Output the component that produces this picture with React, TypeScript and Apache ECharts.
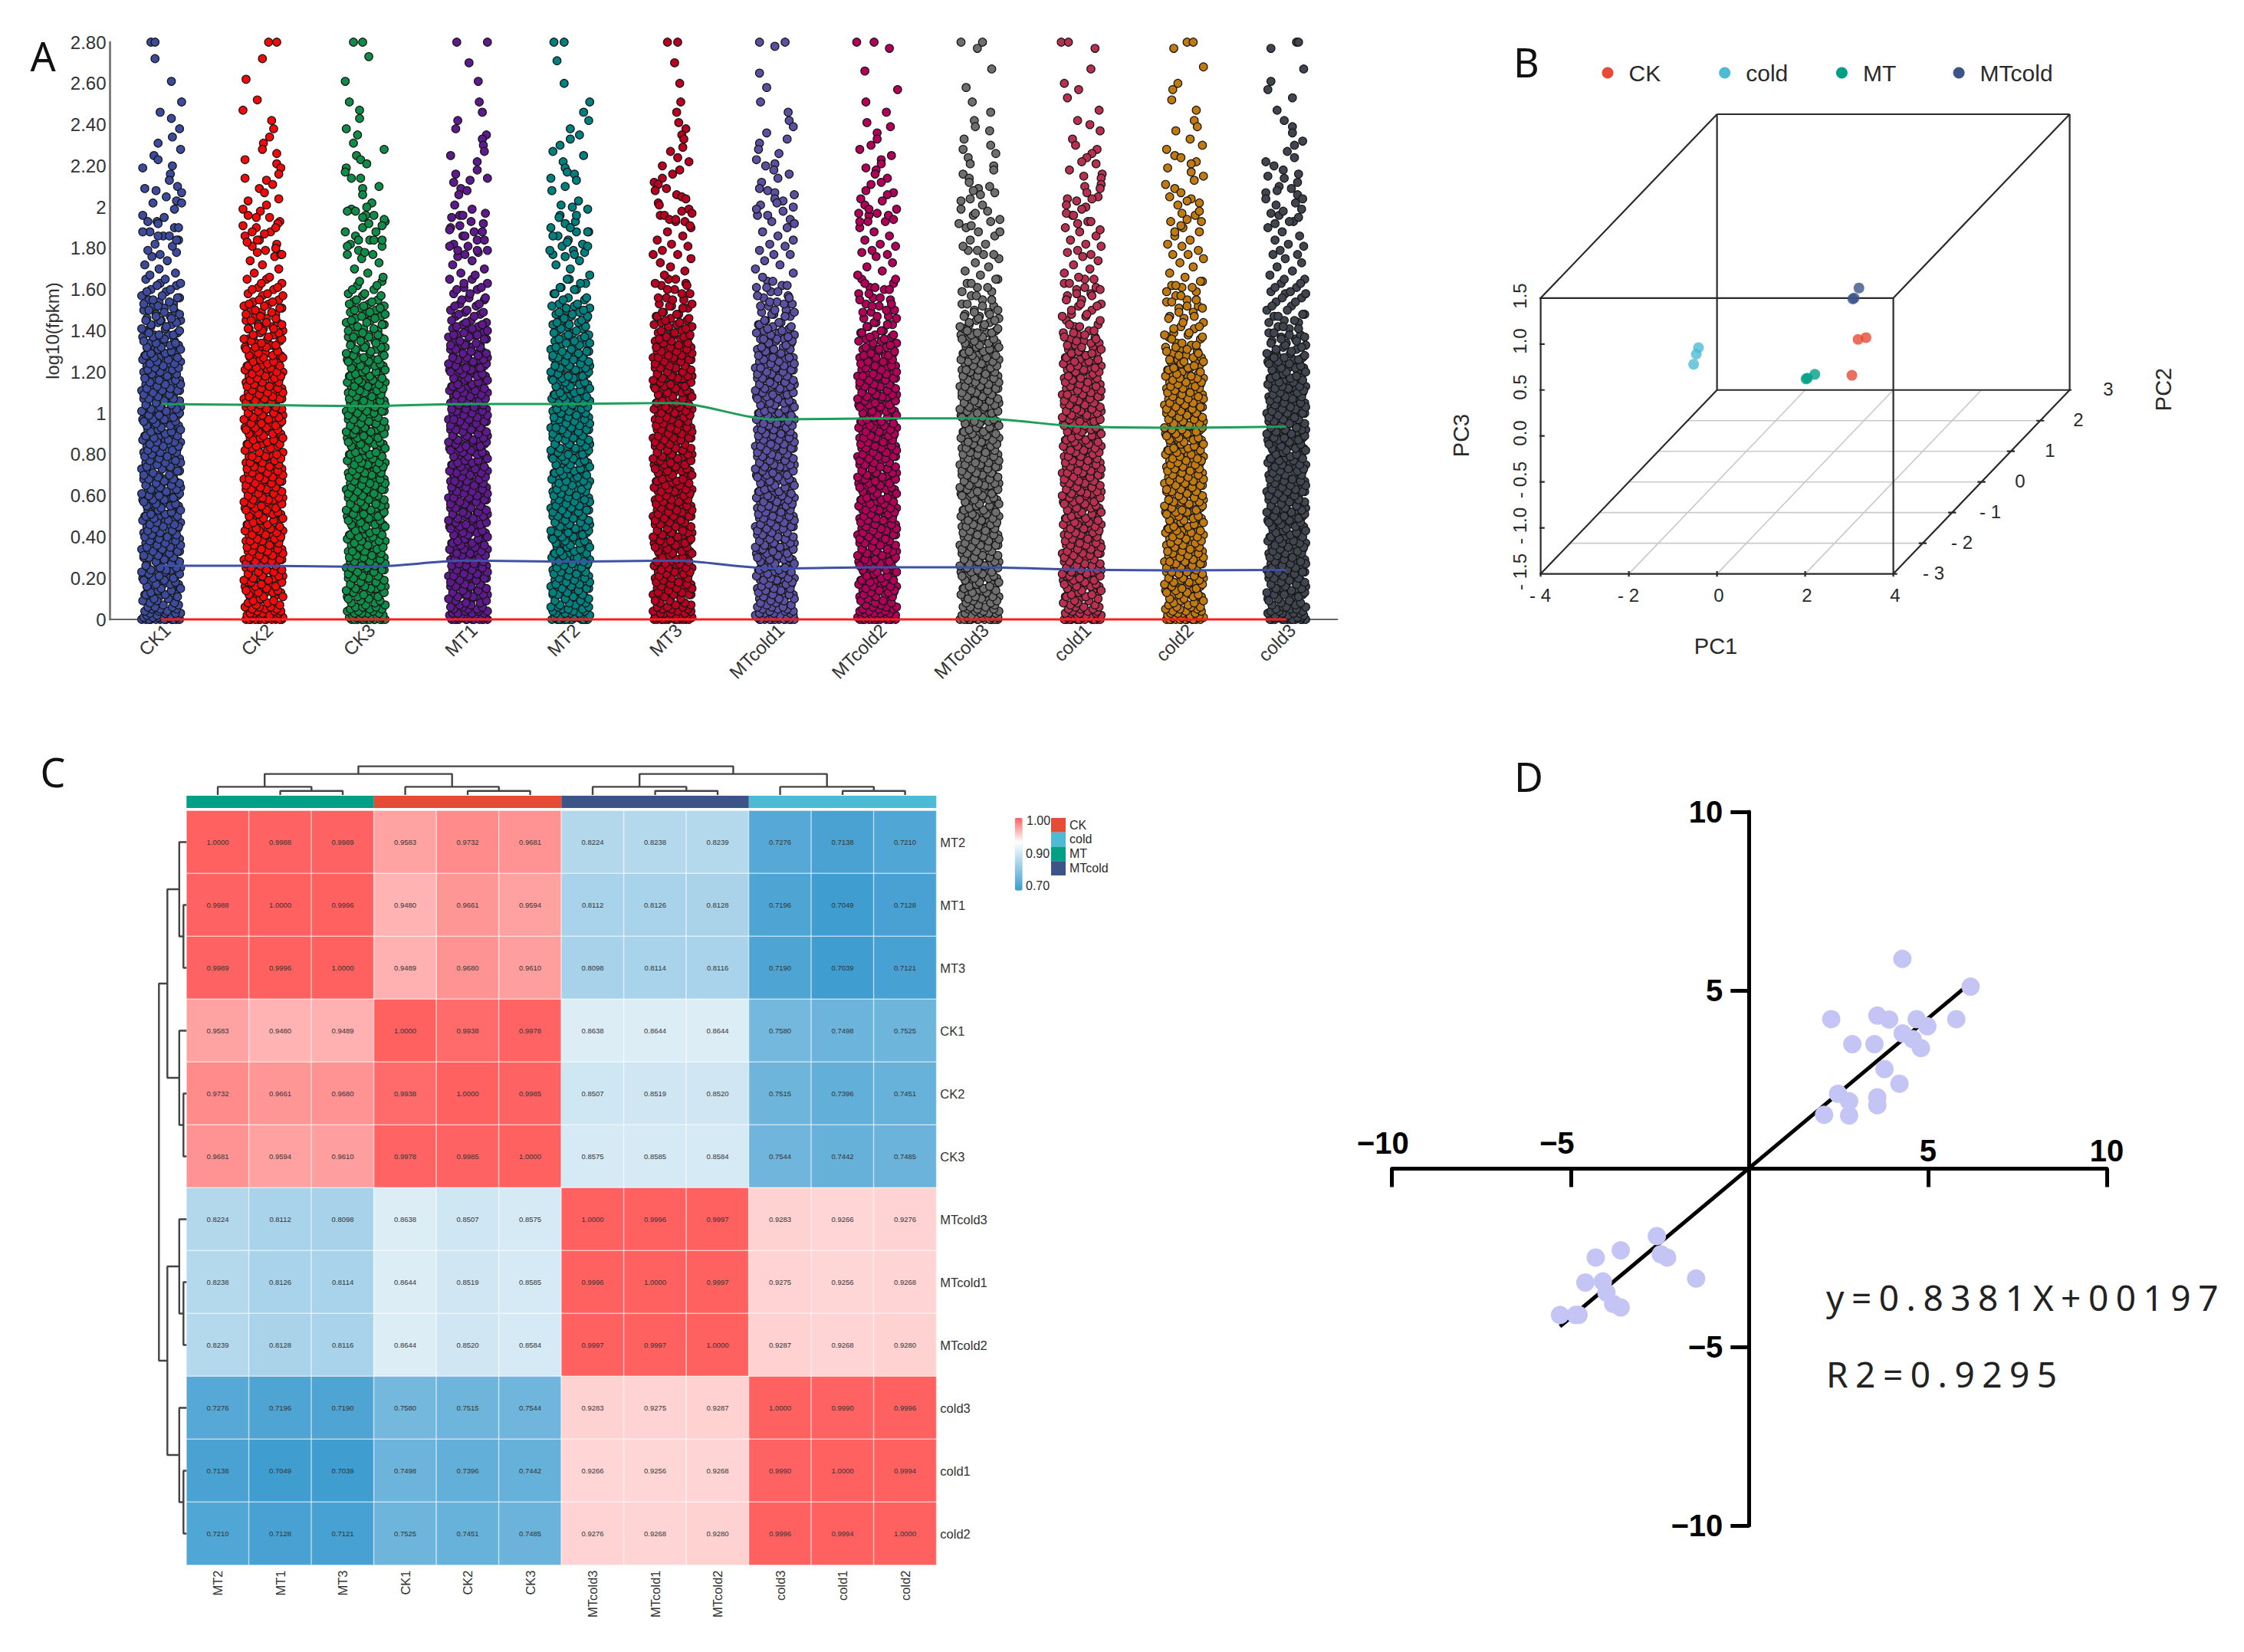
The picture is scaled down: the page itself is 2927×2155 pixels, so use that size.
import React, { useEffect, useRef } from "react";
import * as echarts from "echarts";

const SANS = '"Liberation Sans"';

// ---------- Panel A ----------
const sampleNames = ["CK1","CK2","CK3","MT1","MT2","MT3","MTcold1","MTcold2","MTcold3","cold1","cold2","cold3"];
const sampleColors = ["#3D4B9C","#F00A0A","#0E8C48","#5E1A8C","#007F7F","#B80020","#5A4FA0","#B0005A","#6E6E6E","#B83050","#C07A10","#40454F"];
const greenLine = [1.045,1.04,1.035,1.045,1.045,1.05,0.97,0.975,0.975,0.935,0.93,0.935];
const blueLine = [0.26,0.26,0.255,0.285,0.28,0.285,0.247,0.253,0.253,0.241,0.238,0.24];
const redLine = [0,0,0,0,0,0,0,0,0,0,0,0];
const yTicksA = ["0","0.20","0.40","0.60","0.80","1","1.20","1.40","1.60","1.80","2","2.20","2.40","2.60","2.80"];

// sideways scatter, in hundredths of a category band
const jitter = [-19,5,-10,15,-1,-15,10,-5,18,3,-12,12,-3,-17,8,-8,16,1,-14,9,-4,19,4,-11,14,-2,-16,6,-9,15,-1,-13,11,-6,17,2,-11,13,-4,-18,7,-7,16,-15,4,-10,10,-3,19,0,-14,9,-5,14,-17,3,-8,12,-2,-12,18];
// crowded floor of each strip (log10 fpkm x100)
const floorValues = [0,0,0,0,0,0,0,0,0,0,0,0,1,1,1,1,1,2,2,2,2,3,3,3,3,4,4,4,5,5,5,6,6,6,7,7,8,8,9,9];
// thinning shoulder between the body and the sparse tail
const shoulderValues = [177,179,181,182,184,186,188,190,193,196];

// dense bodies (x100), estimated from the visible density
const bodyCK1 = [10,10,11,12,12,13,14,14,15,15,16,17,17,18,19,19,20,20,21,22,22,23,24,24,25,25,26,27,28,28,29,30,30,31,31,32,33,33,34,35,35,36,36,37,38,38,39,40,40,41,41,42,43,43,44,45,45,46,46,47,48,48,49,50,50,51,51,52,53,53,54,55,55,56,56,57,58,58,59,60,60,61,61,62,63,63,64,65,65,66,66,67,68,68,69,70,70,71,72,73,74,74,75,76,76,77,77,78,79,79,80,81,81,82,82,83,84,84,85,86,86,87,87,88,89,89,90,91,91,92,92,93,94,94,95,96,96,97,97,98,99,99,100,101,101,102,102,103,104,104,105,106,106,107,107,108,109,109,110,111,111,112,112,113,114,114,115,116,116,117,118,119,119,120,121,121,122,122,123,124,124,125,126,126,127,127,128,129,129,130,131,131,132,132,133,134,134,135,136,137,138,138,139,140,141,142,143,144,145,145,146,147,148,149,150,151,152,153,154,155,156,157,159,160,162,163,165,167,168,170,172,174,176,178];
const bodyCK2 = [10,11,11,12,13,13,14,14,15,16,16,17,18,18,19,19,20,21,21,22,23,23,24,24,25,26,26,27,28,28,29,29,30,31,31,32,33,33,34,34,35,36,36,37,38,38,39,39,40,41,41,42,43,43,44,44,45,46,46,47,48,48,49,49,50,51,51,52,53,53,54,54,55,56,56,57,58,58,59,59,60,61,61,62,63,63,64,64,65,66,66,67,68,68,69,69,70,71,71,72,73,73,74,74,75,76,76,77,78,78,79,79,80,81,82,83,84,85,85,86,87,87,88,88,89,90,90,91,92,92,93,93,94,95,95,96,97,97,98,98,99,100,100,101,102,102,103,103,104,105,105,106,107,107,108,108,109,110,110,111,112,112,113,113,114,115,115,116,117,117,118,118,119,120,120,121,122,122,123,123,124,125,125,126,127,127,128,128,129,130,131,132,132,133,134,135,136,136,137,138,139,140,141,141,142,143,144,145,146,147,148,149,150,151,152,153,154,155,157,158,160,161,163,165,166,168,170,172,174,176,178];
const bodyCK3 = [10,10,11,11,12,13,13,14,15,15,16,16,17,18,18,19,20,20,21,21,22,23,23,24,25,25,26,26,27,28,28,29,30,30,31,31,32,33,33,34,35,35,36,37,38,38,39,40,40,41,41,42,43,43,44,45,45,46,46,47,48,48,49,50,50,51,51,52,53,53,54,55,55,56,56,57,58,58,59,60,60,61,61,62,63,63,64,65,65,66,66,67,68,68,69,70,70,71,71,72,73,73,74,75,75,76,76,77,78,78,79,80,80,81,81,82,83,83,84,85,85,86,86,87,88,88,89,90,90,91,91,92,93,93,94,95,95,96,96,97,98,98,99,100,100,101,101,102,103,103,104,105,105,106,106,107,108,108,109,110,110,111,111,112,113,113,114,115,115,116,116,117,118,118,119,120,120,121,121,122,123,123,124,125,125,126,126,127,128,128,129,130,131,132,132,133,134,135,136,137,137,138,139,140,141,142,143,144,145,146,147,148,149,150,151,152,153,154,155,157,158,160,162,164,166,168,170,173,175,177];
const bodyMT1 = [10,11,11,12,12,13,14,14,15,16,16,17,17,18,19,19,20,21,21,22,22,23,24,24,25,26,26,27,27,28,29,29,30,31,31,32,32,33,34,34,35,36,36,37,37,38,39,39,40,41,41,42,42,43,44,44,45,46,46,47,47,48,49,49,50,51,51,52,52,53,54,54,55,56,56,57,57,58,59,59,60,61,61,62,62,63,64,64,65,66,66,67,67,68,69,69,70,71,71,72,72,73,74,74,75,76,76,77,77,78,79,79,80,81,81,82,82,83,84,84,85,86,86,87,87,88,89,89,90,91,91,92,92,93,94,94,95,96,96,97,97,98,99,99,100,101,101,102,102,103,104,104,105,106,106,107,107,108,109,109,110,111,111,112,112,113,114,114,115,116,116,117,117,118,119,119,120,121,121,122,122,123,124,124,125,126,126,127,127,128,129,129,130,131,132,133,133,134,135,136,137,138,138,139,140,141,142,143,144,145,147,148,149,150,152,153,155,156,158,160,161,163,165,167,168,170,172,174,176,178];
const bodyMT2 = [10,10,11,12,12,13,13,14,15,15,16,17,17,18,18,19,20,20,21,22,22,23,23,24,25,25,26,27,27,28,28,29,30,30,31,32,32,33,33,34,35,35,36,37,37,38,38,39,40,40,41,42,42,43,43,44,45,45,46,47,47,48,48,49,50,50,51,52,52,53,53,54,55,55,56,57,57,58,58,59,60,60,61,62,62,63,63,64,65,65,66,67,67,68,69,70,70,71,72,72,73,73,74,75,75,76,77,77,78,78,79,80,80,81,82,82,83,83,84,85,85,86,87,87,88,88,89,90,90,91,92,92,93,93,94,95,95,96,97,97,98,98,99,100,100,101,102,102,103,103,104,105,105,106,107,107,108,108,109,110,110,111,112,112,113,113,114,115,115,116,117,117,118,118,119,120,120,121,122,122,123,123,124,125,125,126,127,127,128,128,129,130,130,131,132,133,134,134,135,136,137,138,139,140,141,142,143,144,145,146,147,148,149,150,151,152,153,155,156,158,160,161,163,165,167,170,172,174,176,178];
const bodyMT3 = [10,11,12,12,13,13,14,15,15,16,17,17,18,18,19,20,20,21,22,22,23,23,24,25,25,26,27,27,28,28,29,30,30,31,32,32,33,33,34,35,35,36,37,37,38,38,39,40,40,41,42,42,43,43,44,45,45,46,47,47,48,48,49,50,50,51,52,52,53,53,54,55,55,56,57,57,58,58,59,60,60,61,62,62,63,63,64,65,65,66,67,67,68,68,69,70,70,71,72,72,73,73,74,75,75,76,77,77,78,78,79,80,80,81,82,82,83,83,84,85,85,86,87,87,88,88,89,90,90,91,92,92,93,93,94,95,95,96,97,97,98,98,99,100,100,101,102,102,103,103,104,105,105,106,107,107,108,108,109,110,110,111,112,112,113,113,114,115,115,116,117,117,118,118,119,120,120,121,122,122,123,123,124,125,125,126,127,127,128,128,129,130,130,131,132,132,133,134,134,135,136,137,137,138,139,140,141,142,143,144,145,146,147,148,149,151,152,153,155,156,158,160,162,163,165,167,169,171,173,175,177];
const bodyMTcold1 = [10,10,11,12,12,13,14,14,15,15,16,17,17,18,19,19,20,20,21,22,22,23,24,24,25,25,26,27,27,28,29,29,30,30,31,32,32,33,34,34,35,35,36,37,37,38,39,39,40,40,41,42,42,43,44,44,45,45,46,47,47,48,49,49,50,50,51,52,52,53,54,54,55,55,56,57,57,58,59,59,60,60,61,62,62,63,64,64,65,65,66,67,67,68,69,69,70,70,71,72,72,73,74,74,75,75,76,77,77,78,79,79,80,80,81,82,82,83,84,84,85,85,86,87,87,88,89,89,90,90,91,92,92,93,94,94,95,95,96,97,97,98,99,99,100,100,101,102,102,103,104,104,105,105,106,107,107,108,109,109,110,110,111,112,112,113,114,114,115,115,116,117,117,118,119,119,120,120,121,122,122,123,124,124,125,126,127,127,128,129,130,131,131,132,133,134,135,136,136,137,138,139,140,141,142,143,144,145,147,148,149,150,152,153,154,156,157,159,161,162,164,166,168,170,172,174,177];
const bodyMTcold2 = [10,11,11,12,13,13,14,14,15,16,16,17,18,18,19,19,20,21,21,22,23,23,24,24,25,26,26,27,28,28,29,29,30,31,31,32,33,33,34,34,35,36,36,37,38,38,39,39,40,41,41,42,43,43,44,44,45,46,46,47,48,48,49,49,50,51,51,52,53,53,54,54,55,56,56,57,58,58,59,59,60,61,61,62,63,63,64,64,65,66,66,67,68,68,69,69,70,71,71,72,73,73,74,74,75,76,76,77,78,78,79,79,80,81,81,82,83,83,84,84,85,86,86,87,88,88,89,89,90,91,91,92,93,93,94,94,95,96,96,97,98,98,99,99,100,101,101,102,103,103,104,104,105,106,106,107,108,108,109,109,110,111,111,112,113,113,114,114,115,116,116,117,118,118,119,119,120,121,122,123,123,124,125,125,126,127,128,128,129,130,131,132,133,134,135,136,137,138,139,140,142,143,144,146,147,149,150,152,153,155,156,158,160,161,163,165,167,169,171,173,176,178];
const bodyMTcold3 = [10,10,11,11,12,13,13,14,15,15,16,16,17,18,18,19,20,20,21,21,22,23,23,24,25,25,26,26,27,28,28,29,30,30,31,31,32,33,33,34,35,35,36,36,37,38,38,39,40,40,41,41,42,43,43,44,45,45,46,46,47,48,48,49,50,50,51,51,52,53,53,54,55,55,56,56,57,58,58,59,60,60,61,61,62,63,63,64,65,65,66,66,67,68,68,69,70,70,71,71,72,73,73,74,75,75,76,76,77,78,78,79,80,80,81,81,82,83,83,84,85,85,86,86,87,88,88,89,90,90,91,91,92,93,93,94,95,95,96,96,97,98,98,99,100,100,101,101,102,103,103,104,105,105,106,106,107,108,108,109,110,110,111,111,112,113,113,114,115,115,116,116,117,118,118,119,120,120,121,121,122,123,123,124,125,125,126,126,127,128,128,129,130,130,131,132,132,133,134,134,135,136,136,137,138,139,139,140,141,142,143,144,145,146,147,148,149,150,152,153,155,157,159,161,163,165,167,169,171,173,175,177,179];
const bodyCold1 = [10,11,11,12,12,13,14,14,15,16,16,17,17,18,19,19,20,21,21,22,22,23,24,24,25,26,26,27,27,28,29,29,30,31,31,32,32,33,34,34,35,36,36,37,37,38,39,39,40,41,41,42,42,43,44,44,45,46,46,47,47,48,49,49,50,51,51,52,52,53,54,54,55,56,56,57,57,58,59,59,60,61,61,62,62,63,64,64,65,66,66,67,67,68,69,69,70,71,71,72,72,73,74,74,75,76,76,77,77,78,79,79,80,81,81,82,82,83,84,84,85,86,86,87,87,88,89,89,90,91,91,92,92,93,94,94,95,96,96,97,97,98,99,99,100,101,101,102,102,103,104,104,105,106,106,107,107,108,109,109,110,111,111,112,113,113,114,115,115,116,117,117,118,119,120,120,121,122,122,123,124,125,125,126,127,128,129,129,130,131,132,133,134,135,136,137,138,139,140,142,143,145,147,148,150,152,153,155,157,158,160,161,163,165,166,168,170,172,174,176,178];
const bodyCold2 = [10,10,11,12,12,13,13,14,15,15,16,17,17,18,18,19,20,20,21,22,22,23,23,24,25,25,26,27,27,28,28,29,30,30,31,32,32,33,33,34,35,35,36,37,37,38,38,39,40,40,41,42,42,43,43,44,45,45,46,47,47,48,48,49,50,50,51,52,52,53,53,54,55,55,56,57,57,58,58,59,60,60,61,62,62,63,63,64,65,65,66,67,67,68,68,69,70,70,71,72,72,73,73,74,75,75,76,77,77,78,78,79,80,80,81,82,82,83,83,84,85,85,86,87,87,88,88,89,90,90,91,92,92,93,93,94,95,95,96,97,97,98,98,99,100,100,101,102,102,103,103,104,105,105,106,107,107,108,108,109,110,110,111,112,112,113,113,114,115,115,116,117,117,118,118,119,120,121,122,122,123,124,125,125,126,127,128,129,130,131,132,133,134,136,137,138,139,141,142,144,146,147,149,151,152,154,155,157,159,161,162,164,166,168,171,173,175,177];
const bodyCold3 = [10,11,12,12,13,13,14,15,15,16,17,17,18,18,19,20,20,21,22,22,23,23,24,25,25,26,27,27,28,28,29,30,30,31,32,32,33,33,34,35,35,36,37,37,38,38,39,40,40,41,42,42,43,43,44,45,45,46,47,47,48,48,49,50,50,51,52,52,53,53,54,55,55,56,57,57,58,58,59,60,60,61,62,62,63,63,64,65,65,66,67,67,68,68,69,70,70,71,72,72,73,73,74,75,75,76,77,77,78,78,79,80,80,81,82,82,83,83,84,85,85,86,87,87,88,88,89,90,90,91,92,92,93,93,94,95,95,96,97,97,98,98,99,100,100,101,102,102,103,103,104,105,105,106,107,107,108,108,109,110,110,111,112,112,113,113,114,115,115,116,117,117,118,118,119,120,120,121,122,122,123,124,124,125,126,127,127,128,129,130,131,132,133,134,135,136,137,138,139,141,142,144,145,147,148,150,152,154,156,158,159,161,163,165,167,169,171,173,175,177];

// sparse tails read dot by dot: jitter, value x100, jitter, value x100 ...
const tailCK1 = [-10,280,-6,280,-6,272,10,261,20,251,-1,246,10,243,18,238,11,234,-3,231,19,228,-7,225,-3,223,-18,219,11,220,9,216,8,213,-16,209,-5,208,16,210,20,207,5,205,15,203,-8,202,20,202,13,199,-13,193,-3,192,3,195,17,190,-18,188,-3,186,8,186,15,184];
const tailCK2 = [5,280,13,280,-1,272,-17,262,-6,252,-20,247,8,242,10,238,6,234,0,231,-1,228,13,226,-18,223,13,221,17,219,15,216,-18,214,3,213,9,211,-4,209,1,207,15,204,-15,203,3,201,-20,199,-3,198,-7,195,6,195,-20,191,14,192,12,190,-11,188,1,187,-16,183,-6,184,12,180,18,177];
const tailCK3 = [-12,280,-3,280,3,273,-20,261,-16,251,-6,247,-6,243,-19,238,-8,235,-12,231,18,228,-9,225,-5,223,1,221,-19,219,-20,217,-14,214,-5,214,13,210,-3,209,-3,206,-14,199,6,202,1,200,-18,198,-10,198,8,196,18,194,-3,195,16,191,3,192,-20,188,-7,184,8,184,16,184,-18,181,-1,178];
const tailMT1 = [-11,280,19,280,1,270,10,261,11,251,14,246,-10,242,-12,238,18,235,14,233,15,230,16,227,-17,225,9,222,9,218,-12,216,19,214,-14,212,2,213,-7,209,-9,206,-1,208,-13,201,-16,195,4,199,17,197,-5,196,-8,191,15,192,6,188,-18,189,-3,186,-18,181,16,184,-10,179,9,179];
const tailMT2 = [-16,280,-6,280,-13,271,-6,260,19,251,13,246,18,242,0,238,9,235,0,233,-10,230,-17,227,13,225,-7,222,-5,219,-3,217,4,216,6,213,-19,214,-5,210,-18,208,8,203,-9,201,17,199,2,200,-11,195,6,196,-5,192,17,188,-17,186,6,188,0,190,-3,183,17,181,-20,179,4,177];
const tailMT3 = [-5,280,5,280,2,270,7,260,8,251,4,246,6,241,13,238,9,235,11,233,10,229,-2,227,5,224,16,222,-10,220,7,218,0,216,-10,214,-18,212,-14,211,-17,208,-6,209,4,206,9,205,13,204,-14,202,-13,201,9,198,16,199,19,197,-8,196,-3,194,3,194,12,193,17,191];
const tailMTcold1 = [-15,280,0,278,10,280,-15,265,-8,258,-14,251,13,246,14,242,18,239,-8,236,12,233,-15,231,-16,228,4,226,-18,223,-9,220,0,221,-1,218,14,216,3,214,-13,212,-15,209,-7,208,0,207,19,206,0,204,8,203,-14,201,-18,199,18,200,2,202,8,198,-7,196,15,194,19,192];
const tailMTcold2 = [-20,280,-3,280,12,277,-12,266,20,257,-11,251,9,246,-10,241,13,239,0,236,0,233,-6,230,-17,228,14,225,4,223,4,221,-11,219,-1,218,-2,216,10,214,4,212,-6,211,-11,208,16,207,10,206,-16,204,5,203,-12,201,-8,199,0,197,-18,197,19,199,11,196,-17,193,-9,193,16,194];
const tailMTcold3 = [-18,280,3,280,-2,277,12,267,-13,258,-7,251,11,246,-5,242,-4,239,10,237,-15,233,11,230,-16,228,16,226,-11,224,-9,221,14,220,14,218,-16,216,-10,214,-10,212,10,210,-1,209,-6,208,15,207,1,206,-18,203,-9,204,-18,199,3,201,8,198,-4,197,20,194,-20,192,-8,191,20,188];
const tailCold1 = [-20,280,-13,280,13,277,9,267,-17,260,-3,257,-14,253,17,247,-4,242,8,240,18,237,-9,233,-6,230,15,228,10,226,5,224,0,222,14,221,-12,218,20,216,2,215,19,214,19,211,3,210,18,209,5,207,16,205,10,204,-14,204,-5,203,-15,201,4,200,-15,197,-8,196,0,199,9,193,-4,192,18,189];
const tailCold2 = [3,280,9,280,-10,277,19,268,-6,260,-11,257,-12,252,12,247,10,242,13,239,-8,237,6,233,18,230,-17,228,-9,225,-3,224,12,222,7,221,-16,219,7,217,19,215,10,213,-18,211,-9,209,-3,207,-14,205,7,204,3,203,15,202,-6,201,15,198,-2,197,17,193,3,194,-9,188,-3,191];
const tailCold3 = [10,280,12,280,-15,277,17,267,-15,261,-18,257,6,253,-9,247,-2,242,6,239,6,236,16,232,8,230,1,227,8,224,-20,222,-12,220,-3,218,12,216,-18,215,-2,214,11,212,-7,210,5,209,-9,208,-20,207,-20,204,11,206,16,204,9,202,-10,201,-15,197,-3,198,15,199,12,195,-11,192,3,193];

const bodies = [bodyCK1,bodyCK2,bodyCK3,bodyMT1,bodyMT2,bodyMT3,bodyMTcold1,bodyMTcold2,bodyMTcold3,bodyCold1,bodyCold2,bodyCold3];
const tails = [tailCK1,tailCK2,tailCK3,tailMT1,tailMT2,tailMT3,tailMTcold1,tailMTcold2,tailMTcold3,tailCold1,tailCold2,tailCold3];

// ---------- Panel B ----------
const pcaGroups = ["CK","cold","MT","MTcold"];
const pcaColors = ["#E64B35","#4DBBD5","#00A087","#3C5488"];
// position on the drawn box: PC1 + 4*depth, PC3 + 2*depth
const pcaCK = [[3.38,1.07],[3.2,1.05],[3.06,0.66]];
const pcaCold = [[-0.42,0.96],[-0.47,0.89],[-0.53,0.78]];
const pcaMT = [[2.22,0.67],[2.02,0.62],[2.05,0.63]];
const pcaMTcold = [[3.22,1.61],[3.08,1.49],[3.11,1.5]];
const pc1Ticks = [-4,-2,0,2,4];
const pc2Ticks = [-3,-2,-1,0,1,2,3];
const pc3Ticks = [-1.5,-1,-0.5,0,0.5,1,1.5];

// ---------- Panel C ----------
const heatNames = ["MT2","MT1","MT3","CK1","CK2","CK3","MTcold3","MTcold1","MTcold2","cold3","cold1","cold2"];
const rowMT2 = [1.0,0.9988,0.9989,0.9583,0.9732,0.9681,0.8224,0.8238,0.8239,0.7276,0.7138,0.721];
const rowMT1 = [0.9988,1.0,0.9996,0.948,0.9661,0.9594,0.8112,0.8126,0.8128,0.7196,0.7049,0.7128];
const rowMT3 = [0.9989,0.9996,1.0,0.9489,0.968,0.961,0.8098,0.8114,0.8116,0.719,0.7039,0.7121];
const rowCK1 = [0.9583,0.948,0.9489,1.0,0.9938,0.9978,0.8638,0.8644,0.8644,0.758,0.7498,0.7525];
const rowCK2 = [0.9732,0.9661,0.968,0.9938,1.0,0.9985,0.8507,0.8519,0.852,0.7515,0.7396,0.7451];
const rowCK3 = [0.9681,0.9594,0.961,0.9978,0.9985,1.0,0.8575,0.8585,0.8584,0.7544,0.7442,0.7485];
const rowMTcold3 = [0.8224,0.8112,0.8098,0.8638,0.8507,0.8575,1.0,0.9996,0.9997,0.9283,0.9266,0.9276];
const rowMTcold1 = [0.8238,0.8126,0.8114,0.8644,0.8519,0.8585,0.9996,1.0,0.9997,0.9275,0.9256,0.9268];
const rowMTcold2 = [0.8239,0.8128,0.8116,0.8644,0.852,0.8584,0.9997,0.9997,1.0,0.9287,0.9268,0.928];
const rowCold3 = [0.7276,0.7196,0.719,0.758,0.7515,0.7544,0.9283,0.9275,0.9287,1.0,0.999,0.9996];
const rowCold1 = [0.7138,0.7049,0.7039,0.7498,0.7396,0.7442,0.9266,0.9256,0.9268,0.999,1.0,0.9994];
const rowCold2 = [0.721,0.7128,0.7121,0.7525,0.7451,0.7485,0.9276,0.9268,0.928,0.9996,0.9994,1.0];
const heatRows = [rowMT2,rowMT1,rowMT3,rowCK1,rowCK2,rowCK3,rowMTcold3,rowMTcold1,rowMTcold2,rowCold3,rowCold1,rowCold2];
const annotNames = ["MT","CK","MTcold","cold"];
const annotColors = ["#00A087","#E64B35","#3C5488","#4DBBD5"];
const annotSizes = [3,3,3,3];
const legendNames = ["CK","cold","MT","MTcold"];
const legendColors = ["#E64B35","#4DBBD5","#00A087","#3C5488"];
const topMerges = [5.2,10.6,27.4,37.4];
const leftMerges = [4,9.5,25,36];

// ---------- Panel D ----------
const scatterX = [4.28,6.19,2.29,3.58,3.91,4.68,5.79,4.98,4.29,4.57,4.8,2.88,3.5,3.78,4.2,2.48,2.79,3.58,3.58,2.09,2.79,-2.59,-2.48,-2.3,-1.49,-3.6,-4.3,-4.59,-4.1,-4.0,-3.81,-3.6,-5.3,-4.86,-4.78];
const scatterY = [5.88,5.1,4.19,4.29,4.18,4.19,4.19,3.99,3.79,3.63,3.38,3.49,3.49,2.79,2.38,2.1,1.89,2.0,1.78,1.51,1.49,-1.89,-2.4,-2.49,-3.08,-2.29,-2.49,-3.19,-3.16,-3.47,-3.79,-3.89,-4.1,-4.1,-4.1];
const fitX = [-5.3,6.0];
const fitY = [-4.42,5.05];
const dTicks = [-10,-5,5,10];

const GAP = [NaN, NaN];

function dendro(m: number[]) {
  const [h1, h2, h3, h4] = m;
  const out: number[][] = [];
  const u = (a: number, ha: number, b: number, hb: number, h: number) => {
    out.push([a, ha], [a, h], [b, h], [b, hb], GAP);
  };
  [0, 3, 6, 9].forEach((i) => {
    u(i + 1.5, 0, i + 2.5, 0, h1);
    u(i + 0.5, 0, i + 2, h1, h2);
  });
  u(1.25, h2, 4.25, h2, h3);
  u(7.25, h2, 10.25, h2, h3);
  u(2.75, h3, 8.75, h3, h4);
  return out;
}

function T(text: string, x: number, y: number, size: number, o: any = {}) {
  return {
    type: "text", x, y, rotation: o.rot || 0, silent: true, z: 50,
    style: {
      text, font: `${o.weight || "normal"} ${size}px ${o.family || SANS}`,
      fill: o.fill || "#2a2a2a", textAlign: o.align || "center", textVerticalAlign: "middle",
    },
  };
}

function buildOption() {
  const series: any[] = [];
  // Panel A
  sampleNames.forEach((name, i) => {
    const pts: number[][] = [];
    const n = jitter.length;
    // the body is laid twice with a different sideways phase, thinning out near the top
    bodies[i].filter((v) => v <= 165).forEach((v, k) => {
      pts.push([i + 0.5 + jitter[(k + i * 7 + 23) % n] / 100, v / 100]);
    });
    floorValues.concat(bodies[i], shoulderValues).forEach((v, k) => {
      pts.push([i + 0.5 + jitter[(k + i * 7) % n] / 100, v / 100]);
    });
    const t = tails[i];
    for (let k = 0; k < t.length; k += 2) pts.push([i + 0.5 + t[k] / 100, t[k + 1] / 100]);
    series.push({
      type: "scatter", name, xAxisIndex: 1, yAxisIndex: 0, data: pts, symbolSize: 10.5, clip: false, silent: true,
      itemStyle: { color: sampleColors[i], borderColor: "#161616", borderWidth: 1.2, opacity: 1 },
    });
  });
  [[greenLine, "#1F9D5A"], [blueLine, "#3F51A5"], [redLine, "#FF1E1E"]].forEach(([d, c]: any) => {
    series.push({
      type: "line", xAxisIndex: 0, yAxisIndex: 0, data: d, smooth: 0.3, symbol: "none", z: 5, clip: false, silent: true,
      lineStyle: { color: c, width: 3 },
    });
  });

  // Panel B box, floor and ticks share the projected axes
  const depth = (k: number) => (k + 3) / 6;
  const floor: number[][] = [];
  pc2Ticks.slice(1, 6).forEach((k) => {
    const d = depth(k);
    floor.push([-4 + 4 * d, -1.5 + 2 * d], [4 + 4 * d, -1.5 + 2 * d], GAP);
  });
  [-2, 0, 2].forEach((x) => floor.push([x, -1.5], [x + 4, 0.5], GAP));
  const box: number[][] = [
    [-4,-1.5],[4,-1.5],GAP, [-4,1.5],[4,1.5],GAP, [4,1.5],[4,-1.5],GAP, [-4,1.5],[-4,-1.5],GAP,
    [0,0.5],[8,0.5],GAP, [0,3.5],[8,3.5],GAP, [0,3.5],[0,0.5],GAP, [8,3.5],[8,0.5],GAP,
    [-4,-1.5],[0,0.5],GAP, [4,-1.5],[8,0.5],GAP, [-4,1.5],[0,3.5],GAP, [4,1.5],[8,3.5],GAP,
  ];
  pc3Ticks.forEach((v) => box.push([-4.09, v], [-3.91, v], GAP));
  pc1Ticks.forEach((v) => box.push([v, -1.53], [v, -1.47], GAP));
  pc2Ticks.forEach((k) => {
    const d = depth(k);
    box.push([4 + 4 * d - 0.09, -1.5 + 2 * d], [4 + 4 * d + 0.09, -1.5 + 2 * d], GAP);
  });
  series.push({ type: "line", xAxisIndex: 2, yAxisIndex: 1, data: floor, symbol: "none", silent: true, clip: false, lineStyle: { color: "#C9C9C9", width: 1.6 } });
  series.push({ type: "line", xAxisIndex: 2, yAxisIndex: 1, data: box, symbol: "none", silent: true, clip: false, z: 3, lineStyle: { color: "#2a2a2a", width: 2.2 } });
  [pcaCK, pcaCold, pcaMT, pcaMTcold].forEach((d, i) => {
    series.push({
      type: "scatter", name: pcaGroups[i], xAxisIndex: 2, yAxisIndex: 1, data: d, symbolSize: 14, z: 4, silent: true,
      itemStyle: { color: pcaColors[i] },
    });
  });

  // Panel C
  const heatIndex = series.length;
  const heatData: any[] = [];
  heatRows.forEach((r, y) => r.forEach((v, x) => heatData.push([x, y, v])));
  series.push({
    type: "heatmap", xAxisIndex: 3, yAxisIndex: 2, data: heatData, silent: true,
    itemStyle: { borderColor: "rgba(255,255,255,0.55)", borderWidth: 1.5 },
    label: {
      show: true, fontSize: 9.5, fontFamily: SANS, color: "#333",
      formatter: (p: any) => p.value[2].toFixed(4),
    },
  });
  annotNames.forEach((name, i) => {
    series.push({
      type: "bar", name, xAxisIndex: 6, yAxisIndex: 5, stack: "annot", data: [annotSizes[i]], barWidth: "100%", silent: true,
      itemStyle: { color: annotColors[i] },
    });
  });
  series.push({ type: "line", xAxisIndex: 4, yAxisIndex: 3, data: dendro(topMerges), symbol: "none", silent: true, clip: false, lineStyle: { color: "#444", width: 2.4 } });
  series.push({
    type: "line", xAxisIndex: 5, yAxisIndex: 4, symbol: "none", silent: true, clip: false,
    data: dendro(leftMerges).map((p) => [p[1], p[0]]), lineStyle: { color: "#444", width: 2.4 },
  });

  // Panel D
  series.push({
    type: "line", xAxisIndex: 7, yAxisIndex: 6, symbol: "none", silent: true, z: 2,
    data: fitX.map((x, i) => [x, fitY[i]]), lineStyle: { color: "#000", width: 5 },
  });
  series.push({
    type: "scatter", xAxisIndex: 7, yAxisIndex: 6, symbolSize: 24, z: 3, silent: true,
    data: scatterX.map((x, i) => [x, scatterY[i]]), itemStyle: { color: "#C5C5F5", opacity: 1 },
  });

  const hidden = (o: any) => ({ show: false, ...o });
  const dAxisLine = { onZero: false, lineStyle: { color: "#000", width: 5 } };
  const dTick = { show: true, length: 24, customValues: dTicks, lineStyle: { color: "#000", width: 5 } };

  const graphic: any[] = [
    T("A", 56, 72, 52, { family: '"Noto Sans"', fill: "#111" }),
    T("B", 1991, 80, 52, { family: '"Noto Sans"', fill: "#111" }),
    T("C", 69, 1006, 52, { family: '"Noto Sans"', fill: "#111" }),
    T("D", 1994, 1012, 52, { family: '"Noto Sans"', fill: "#111" }),
    T("PC1", 2238, 843, 29),
    T("PC3", 1906, 568, 29, { rot: Math.PI / 2 }),
    T("PC2", 2822, 508, 29, { rot: Math.PI / 2 }),
    T("1.5", 1982, 386, 24, { rot: Math.PI / 2 }),
    T("1.0", 1982, 445, 24, { rot: Math.PI / 2 }),
    T("0.5", 1982, 505, 24, { rot: Math.PI / 2 }),
    T("0.0", 1982, 565, 24, { rot: Math.PI / 2 }),
    T("- 0.5", 1982, 626, 24, { rot: Math.PI / 2 }),
    T("- 1.0", 1982, 686, 24, { rot: Math.PI / 2 }),
    T("- 1.5", 1982, 746, 24, { rot: Math.PI / 2 }),
    T("- 4", 2009, 776, 24), T("- 2", 2124, 776, 24), T("0", 2242, 776, 24), T("2", 2357, 776, 24), T("4", 2472, 776, 24),
    T("- 3", 2522, 747, 24), T("- 2", 2559, 707, 24), T("- 1", 2596, 667, 24), T("0", 2635, 627, 24), T("1", 2674, 587, 24), T("2", 2711, 547, 24), T("3", 2750, 507, 24),
    T("1.00", 1339, 1070, 16, { align: "left" }),
    T("0.90", 1338, 1113, 16, { align: "left" }),
    T("0.70", 1338, 1155, 16, { align: "left" }),
    T("y=0.8381X+00197", 2382, 1692, 46, { align: "left", family: '"Noto Sans"', fill: "#222" }),
    T("R2=0.9295", 2382, 1792, 46, { align: "left", family: '"Noto Sans"', fill: "#222" }),
  ];
  pcaGroups.forEach((g, i) => {
    const cx = 2097 + i * 152.7;
    graphic.push({ type: "circle", silent: true, shape: { cx, cy: 95, r: 7.5 }, style: { fill: pcaColors[i] } });
    graphic.push(T(g, cx + 27.5, 95, 30, { align: "left" }));
  });
  legendNames.forEach((g, i) => {
    graphic.push({ type: "rect", silent: true, shape: { x: 1371, y: 1067 + i * 18.75, width: 19, height: 18.75 }, style: { fill: legendColors[i] } });
    graphic.push(T(g, 1395, 1076 + i * 18.75, 16, { align: "left" }));
  });

  return {
    animation: false,
    backgroundColor: "#fff",
    textStyle: { fontFamily: SANS },
    grid: [
      { left: 143.5, top: 55, width: 1601, height: 753 },
      { left: 2009.6, top: 149, width: 690, height: 599.6 },
      { left: 243.3, top: 1057.5, width: 978, height: 984 },
      { left: 243.3, top: 995, width: 978, height: 42 },
      { left: 200, top: 1057.5, width: 43.3, height: 984 },
      { left: 243.3, top: 1038, width: 978, height: 16 },
      { left: 1815.7, top: 1059, width: 932.3, height: 931 },
      { left: 151.5, top: 55, width: 1601, height: 753 },
    ],
    xAxis: [
      {
        gridIndex: 0, type: "category", data: sampleNames,
        axisLine: { lineStyle: { color: "#666", width: 2 } }, axisTick: { show: false }, axisLabel: { show: false },
      },
      hidden({ gridIndex: 0, type: "value", min: 0, max: 12 }),
      hidden({ gridIndex: 1, type: "value", min: -4, max: 8 }),
      {
        gridIndex: 2, type: "category", data: heatNames, position: "bottom",
        axisLine: { show: false }, axisTick: { show: false }, splitArea: { show: false },
        axisLabel: { rotate: 90, fontSize: 16.5, color: "#333", margin: 7, interval: 0, fontFamily: SANS },
      },
      hidden({ gridIndex: 3, type: "value", min: 0, max: 12 }),
      hidden({ gridIndex: 4, type: "value", min: 0, max: 43.3, inverse: true }),
      hidden({ gridIndex: 5, type: "value", min: 0, max: 12 }),
      {
        gridIndex: 6, type: "value", min: -10, max: 10, interval: 5, offset: -465.5,
        splitLine: { show: false }, axisLine: dAxisLine, axisTick: dTick,
        axisLabel: {
          inside: true, margin: 4, customValues: dTicks, color: "#000", fontSize: 40, fontWeight: "bold", fontFamily: SANS,
          formatter: (v: number) => (v === -10 ? "{a|\u221210}" : v === -5 ? "{b|\u22125}" : `{c|${v}}`),
          rich: {
            a: { fontSize: 40, fontWeight: "bold", fontFamily: SANS, padding: [0, 24, 10, 0] },
            b: { fontSize: 40, fontWeight: "bold", fontFamily: SANS, padding: [0, 36, 10, 0] },
            c: { fontSize: 40, fontWeight: "bold", fontFamily: SANS },
          },
        },
      },
      {
        gridIndex: 7, type: "category", data: sampleNames,
        axisLine: { show: false }, axisTick: { show: false },
        axisLabel: { rotate: 45, fontSize: 24, color: "#333", margin: 10, interval: 0, fontFamily: SANS },
      },
    ],
    yAxis: [
      {
        gridIndex: 0, type: "value", min: 0, max: 2.8, interval: 0.2, splitLine: { show: false },
        name: "log10(fpkm)", nameLocation: "middle", nameGap: 49, nameTextStyle: { fontSize: 24, color: "#333", fontFamily: SANS },
        axisLine: { show: true, lineStyle: { color: "#808080", width: 3 } }, axisTick: { show: false },
        axisLabel: {
          fontSize: 24, color: "#333", margin: 5, fontFamily: SANS,
          formatter: (v: number) => yTicksA[Math.round(v / 0.2)],
        },
      },
      hidden({ gridIndex: 1, type: "value", min: -1.5, max: 3.5 }),
      {
        gridIndex: 2, type: "category", data: heatNames, inverse: true, position: "right",
        axisLine: { show: false }, axisTick: { show: false }, splitArea: { show: false },
        axisLabel: { fontSize: 16.5, color: "#333", margin: 5, interval: 0, fontFamily: SANS },
      },
      hidden({ gridIndex: 3, type: "value", min: 0, max: 42 }),
      hidden({ gridIndex: 4, type: "value", min: 0, max: 12, inverse: true }),
      hidden({ gridIndex: 5, type: "category", data: ["annotation"] }),
      {
        gridIndex: 6, type: "value", min: -10, max: 10, interval: 5, offset: -465.6,
        splitLine: { show: false }, axisLine: dAxisLine, axisTick: dTick,
        axisLabel: {
          margin: 34, customValues: dTicks, color: "#000", fontSize: 40, fontWeight: "bold", fontFamily: SANS,
          formatter: (v: number) => (v < 0 ? `\u2212${-v}` : `${v}`),
        },
      },
      hidden({ gridIndex: 7, type: "value", min: 0, max: 1 }),
    ],
    visualMap: {
      type: "continuous", seriesIndex: heatIndex, min: 0.7, max: 1, show: true, calculable: false, realtime: false,
      left: 1323.7, top: 1066.8, itemWidth: 10, itemHeight: 95, padding: 0, text: null, hoverLink: false,
      inRange: { color: ["#3B9BCF", "#9DCDE7", "#FFFFFF", "#FF6060"] },
    },
    graphic,
    series,
  };
}

export default function App() {
  const ref = useRef<HTMLDivElement | null>(null);
  useEffect(() => {
    document.body.style.margin = "0";
    document.body.style.background = "#fff";
    const chart = echarts.init(ref.current!, undefined, { renderer: "svg" });
    chart.setOption(buildOption() as any);
    ref.current!.querySelectorAll("text").forEach((t) => {
      const s = t.textContent || "";
      if (s.startsWith("y=0.8381") || s.startsWith("R2=0.9295")) t.setAttribute("letter-spacing", "9.5");
    });
    return () => chart.dispose();
  }, []);
  return <div ref={ref} style={{ width: 2927, height: 2155 }} />;
}
